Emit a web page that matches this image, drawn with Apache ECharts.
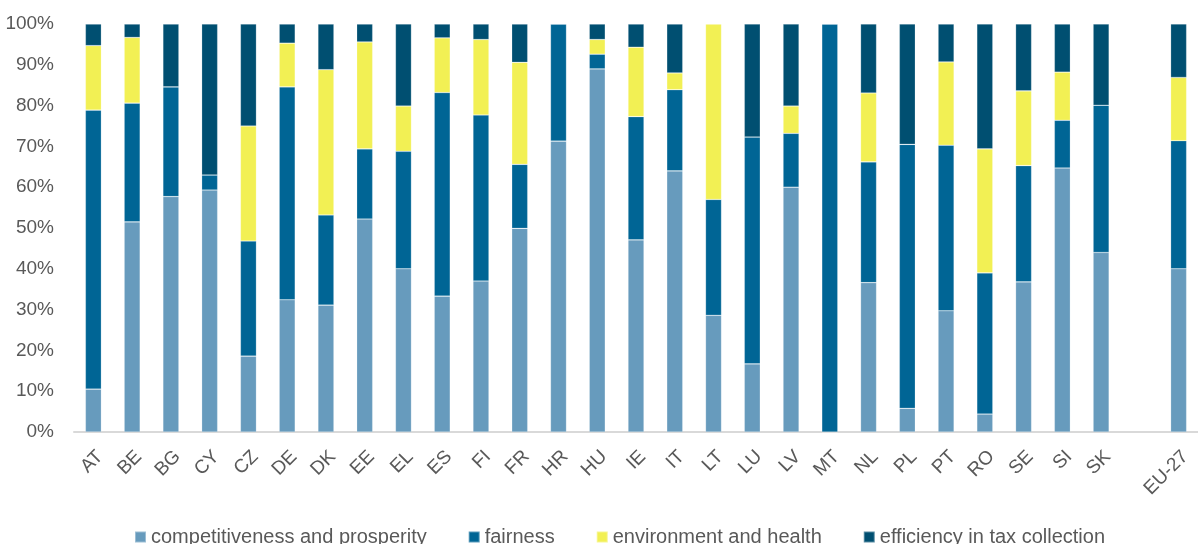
<!DOCTYPE html>
<html>
<head>
<meta charset="utf-8">
<title>Tax reform objectives by Member State</title>
<script src="https://cdn.jsdelivr.net/npm/echarts@6/dist/echarts.min.js"></script>
<style>
  html, body { margin: 0; padding: 0; background: #ffffff; }
  #chart { width: 1198px; height: 544px; }
</style>
</head>
<body>
<div id="chart"></div>
<script>
// Member States, an empty spacer slot, then the EU-27 aggregate
const categories = ['AT','BE','BG','CY','CZ','DE','DK','EE','EL','ES','FI','FR','HR','HU','IE','IT','LT','LU','LV','MT','NL','PL','PT','RO','SE','SI','SK','','EU-27'];

// Share of each objective (%), stacked to 100
const competitiveness = [10.5, 51.5, 57.7, 59.3, 18.6, 32.4, 31.1, 52.2, 40.0, 33.3, 37.0, 49.9, 71.3, 89.0, 47.1, 64.0, 28.6, 16.7, 60.0, 0, 36.6, 5.8, 29.7, 4.4, 36.8, 64.7, 44.0, null, 40.0];
const fairness        = [68.4, 29.1, 26.9, 3.7, 28.2, 52.2, 22.1, 17.2, 28.8, 49.9, 40.7, 15.7, 28.7, 3.6, 30.2, 19.9, 28.4, 55.6, 13.2, 100, 29.6, 64.7, 40.6, 34.6, 28.5, 11.7, 36.1, null, 31.4];
const environment     = [15.8, 16.1, 0, 0, 28.2, 10.7, 35.6, 26.2, 11.1, 13.4, 18.5, 25.0, 0, 3.6, 17.0, 4.1, 43.0, 0, 6.7, 0, 16.9, 0, 20.4, 30.4, 18.3, 11.8, 0, null, 15.5];
const efficiency      = [5.3, 3.3, 15.4, 37.0, 25.0, 4.7, 11.2, 4.4, 20.1, 3.4, 3.8, 9.4, 0, 3.8, 5.7, 12.0, 0, 27.7, 20.1, 0, 16.9, 29.5, 9.3, 30.6, 16.4, 11.8, 19.9, null, 13.1];

const yTicks = [0, 10, 20, 30, 40, 50, 60, 70, 80, 90, 100];

const seriesDefs = [
  { name: 'competitiveness and prosperity', data: competitiveness, color: '#679bbd' },
  { name: 'fairness',                       data: fairness,        color: '#006595' },
  { name: 'environment and health',         data: environment,     color: '#f2f054' },
  { name: 'efficiency in tax collection',   data: efficiency,      color: '#004f71' }
];

const textColor = '#595959';
const fontFamily = '"Liberation Sans", Arial, sans-serif';

const chart = echarts.init(document.getElementById('chart'));
chart.setOption({
  animation: false,
  textStyle: { fontFamily: fontFamily },
  grid: { left: 74, top: 24, width: 1134, height: 408, containLabel: false },
  legend: {
    left: 129,
    top: 522,
    icon: 'rect',
    itemWidth: 11,
    itemHeight: 11,
    itemGap: 41,
    textStyle: { color: textColor, fontSize: 20, fontFamily: fontFamily },
    data: seriesDefs.map(s => s.name)
  },
  xAxis: {
    type: 'category',
    data: categories,
    axisLine: { show: true, lineStyle: { color: '#d9d9d9', width: 2 } },
    axisTick: { show: false },
    axisLabel: {
      interval: 0,
      rotate: 45,
      margin: 15,
      verticalAlign: 'top',
      color: textColor,
      fontSize: 19,
      fontFamily: fontFamily
    }
  },
  yAxis: {
    type: 'value',
    min: yTicks[0],
    max: yTicks[yTicks.length - 1],
    interval: 10,
    splitLine: { show: false },
    axisLine: { show: false },
    axisTick: { show: false },
    axisLabel: {
      margin: 20,
      color: textColor,
      fontSize: 19,
      fontFamily: fontFamily,
      formatter: v => v + '%'
    }
  },
  series: seriesDefs.map(s => ({
    name: s.name,
    type: 'bar',
    stack: 'share',
    barWidth: 16,
    data: s.data,
    itemStyle: {
      color: s.color,
      borderColor: 'rgba(255,255,255,0.35)',
      borderWidth: 0.6
    }
  }))
});
</script>
</body>
</html>
